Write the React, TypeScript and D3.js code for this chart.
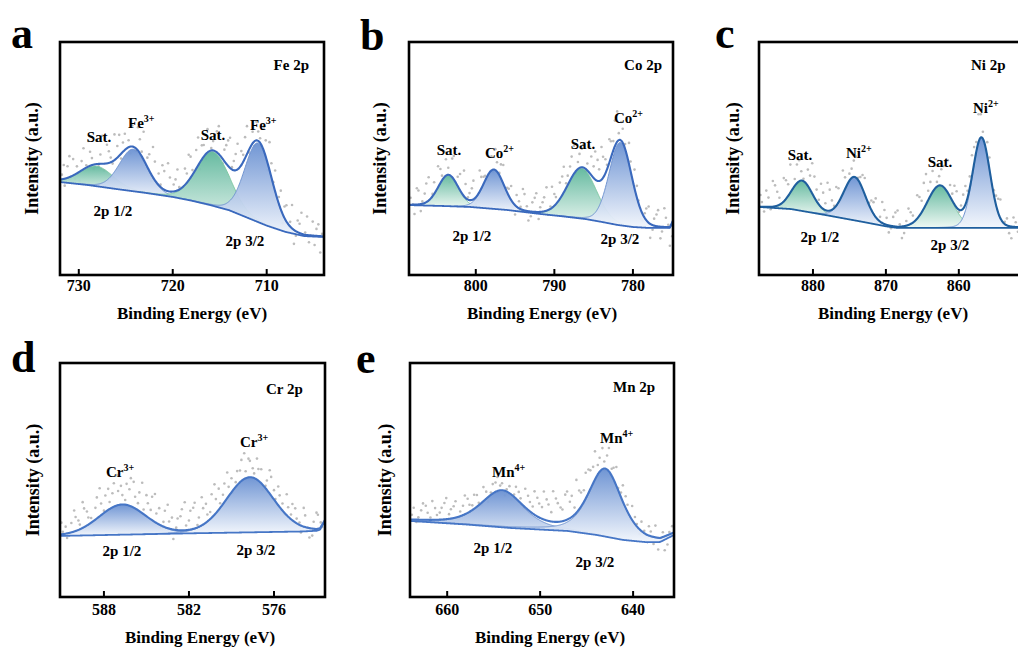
import React from 'react';
import * as d3 from 'd3';

type Peak = { c: number; h: number; w: number; m: number; kind: 'main' | 'sat' };
type Pt = [number, number];

// ---------- Panel a : Fe 2p ----------
const aDomain: Pt = [732, 703.9];
const aTicks = [730, 720, 710];
const aBaseline: Pt[] = [[732, 39.9], [729, 38.6], [726, 36.9], [723, 35.3], [720, 33.5], [718, 31.9], [716, 30.0], [714, 27.8], [712, 24.5], [710, 21.2], [708, 18.5], [706, 16.7], [703.9, 16.3]];
const aPeaks: Peak[] = [
  { c: 728.1, h: 8.6, w: 2.1, m: 0.1, kind: 'sat' },
  { c: 724.2, h: 18.0, w: 1.75, m: 0.1, kind: 'main' },
  { c: 715.7, h: 23.2, w: 2.1, m: 0.1, kind: 'sat' },
  { c: 710.9, h: 33.9, w: 1.7, m: 0.1, kind: 'main' },
];
const aScatter: Pt[] = [[731.8,2],[731.5,-3],[731.2,5],[730.9,-1],[730.6,7],[730.2,3],[729.9,-4],[729.5,9],[729.2,1],[728.8,6],[728.4,-2],[728.1,10],[727.7,4],[727.3,-3],[727.0,8],[726.6,2],[726.2,11],[725.9,5],[725.5,-2],[725.1,7],[724.7,3],[724.3,9],[723.9,-1],[723.5,6],[723.1,12],[722.7,4],[722.3,-3],[721.9,8],[721.5,5],[721.1,10],[720.7,-2],[720.3,6],[719.9,3],[719.5,9],[719.1,-4],[718.7,7],[718.3,11],[717.9,2],[717.5,8],[717.1,-3],[716.7,5],[716.3,10],[715.9,1],[715.5,7],[715.1,12],[714.7,-2],[714.3,8],[713.9,13],[713.5,4],[713.1,11],[712.7,6],[712.3,9],[711.9,-1],[711.5,5],[711.1,8],[710.7,2],[710.3,10],[709.9,-3],[709.5,6],[709.1,9],[708.7,3],[708.3,-4],[707.9,7],[707.5,2],[707.1,-6],[706.7,5],[706.3,9],[705.9,1],[705.5,-3],[705.1,6],[704.7,3],[704.3,-7]];
const aScatter2: Pt[] = [[731.6,6],[731.0,9],[730.4,-2],[729.7,4],[729.0,11],[728.6,3],[727.9,-1],[727.5,12],[726.8,5],[726.4,-1],[725.7,9],[725.3,4],[724.5,-3],[723.7,10],[723.3,2],[722.5,7],[722.1,13],[721.3,1],[720.9,8],[720.5,12],[719.7,5],[719.3,1],[718.5,4],[718.1,9],[717.3,12],[716.9,6],[716.5,-2],[715.7,4],[715.3,9],[714.5,5],[714.1,11],[713.7,1],[713.3,7],[712.5,3],[712.1,12],[711.3,-2],[710.9,4],[710.1,7],[709.7,12],[709.3,1],[708.5,8],[708.1,5],[707.3,10],[706.9,-2],[706.5,4],[705.7,8],[705.3,0],[704.9,-4],[704.5,5],[704.1,1]];

// ---------- Panel b : Co 2p ----------
const bDomain: Pt = [808.5, 774.9];
const bTicks = [800, 790, 780];
const bBaseline: Pt[] = [[808.5, 30.0], [804, 29.6], [800.7, 29.2], [796, 27.9], [791.8, 26.2], [789, 25.2], [786, 24.0], [784, 22.8], [782, 21.5], [780, 20.6], [778, 20.2], [775.3, 20.2], [774.9, 23.0]];
const bPeaks: Peak[] = [
  { c: 803.5, h: 13.3, w: 1.5, m: 0.1, kind: 'sat' },
  { c: 797.7, h: 16.7, w: 1.55, m: 0.1, kind: 'main' },
  { c: 786.5, h: 21.5, w: 2.2, m: 0.1, kind: 'sat' },
  { c: 781.6, h: 35.6, w: 1.7, m: 0.1, kind: 'main' },
];
const bScatter: Pt[] = [[808.3,3],[807.8,-4],[807.3,6],[806.8,1],[806.3,8],[805.8,-2],[805.3,5],[804.8,9],[804.3,2],[803.8,7],[803.3,-3],[802.8,10],[802.3,4],[801.8,-1],[801.3,6],[800.8,3],[800.3,8],[799.8,-2],[799.3,5],[798.8,2],[798.3,7],[797.8,-1],[797.3,4],[796.8,6],[796.3,-3],[795.8,3],[795.3,-2],[794.8,5],[794.3,1],[793.8,7],[793.3,-4],[792.8,4],[792.3,8],[791.8,2],[791.3,6],[790.8,-2],[790.3,9],[789.8,3],[789.3,7],[788.8,11],[788.3,4],[787.8,9],[787.3,-1],[786.8,6],[786.3,10],[785.8,3],[785.3,8],[784.8,12],[784.3,5],[783.8,9],[783.3,2],[782.8,7],[782.3,11],[781.8,3],[781.3,6],[780.8,-2],[780.3,4],[779.8,8],[779.3,1],[778.8,-3],[778.3,5],[777.8,-6],[777.3,3],[776.8,7],[776.3,-2],[775.8,4],[775.3,-8]];
const bScatter2: Pt[] = [[808.0,0],[807.5,7],[807.0,-3],[806.5,4],[806.0,10],[805.5,1],[805.0,-3],[804.5,6],[804.0,11],[803.5,3],[803.0,8],[802.5,-2],[802.0,7],[801.5,11],[801.0,1],[800.5,5],[800.0,-3],[799.5,9],[799.0,3],[798.5,-2],[798.0,6],[797.5,9],[797.0,1],[796.5,8],[796.0,2],[795.5,6],[795.0,-4],[794.5,3],[794.0,9],[793.5,2],[793.0,-2],[792.5,6],[792.0,-3],[791.5,4],[791.0,10],[790.5,1],[790.0,5],[789.5,-2],[789.0,8],[788.5,2],[788.0,6],[787.5,12],[787.0,3],[786.5,8],[786.0,-1],[785.5,11],[785.0,5],[784.5,9],[784.0,14],[783.5,6],[783.0,10],[782.5,4],[782.0,13],[781.5,8],[781.0,2],[780.5,9],[780.0,-1],[779.5,5],[779.0,-4],[778.5,2],[778.0,7],[777.5,-2],[777.0,5],[776.5,-5],[776.0,8],[775.5,1],[775.0,-6]];

// ---------- Panel c : Ni 2p ----------
const cDomain: Pt = [887.4, 851.2];
const cTicks = [880, 870, 860];
const cBaseline: Pt[] = [[887.4, 29.2], [883, 28.3], [878.4, 25.8], [873, 22.7], [870, 20.9], [868.4, 20.2], [851.2, 20.2]];
const cPeaks: Peak[] = [
  { c: 881.5, h: 12.9, w: 1.7, m: 0.1, kind: 'sat' },
  { c: 874.3, h: 18.5, w: 1.75, m: 0.1, kind: 'main' },
  { c: 862.6, h: 18.0, w: 2.05, m: 0.1, kind: 'sat' },
  { c: 856.9, h: 38.6, w: 1.4, m: 0.1, kind: 'main' },
];
const cScatter: Pt[] = [[887.0,2],[886.4,7],[885.8,-1],[885.2,9],[884.6,3],[884.0,10],[883.4,5],[882.8,-2],[882.2,8],[881.6,4],[881.0,11],[880.4,6],[879.8,9],[879.2,2],[878.6,7],[878.0,12],[877.4,4],[876.8,8],[876.2,-1],[875.6,5],[875.0,3],[874.4,7],[873.8,1],[873.2,6],[872.6,-2],[872.0,4],[871.4,8],[870.8,2],[870.2,6],[869.6,-3],[869.0,4],[868.4,7],[867.8,-5],[867.2,2],[866.6,5],[866.0,-2],[865.4,8],[864.8,11],[864.2,4],[863.6,9],[863.0,2],[862.4,7],[861.8,12],[861.2,5],[860.6,8],[860.0,-1],[859.4,6],[858.8,3],[858.2,9],[857.6,4],[857.0,10],[856.4,-2],[855.8,5],[855.2,2],[854.6,6],[854.0,-1],[853.4,3],[852.8,-5],[852.2,2],[851.6,4]];
const cScatter2: Pt[] = [[887.2,5],[886.7,-2],[886.1,4],[885.5,11],[884.9,6],[884.3,-1],[883.7,8],[883.1,12],[882.5,3],[881.9,9],[881.3,1],[880.7,7],[880.1,13],[879.5,5],[878.9,10],[878.3,3],[877.7,9],[877.1,1],[876.5,6],[875.9,10],[875.3,-2],[874.7,4],[874.1,9],[873.5,3],[872.9,7],[872.3,1],[871.7,5],[871.1,-1],[870.5,9],[869.9,3],[869.3,-1],[868.7,6],[868.1,1],[867.5,-3],[866.9,7],[866.3,3],[865.7,10],[865.1,5],[864.5,13],[863.9,6],[863.3,10],[862.7,4],[862.1,9],[861.5,14],[860.9,3],[860.3,7],[859.7,2],[859.1,8],[858.5,5],[857.9,7],[857.3,12],[856.7,3],[856.1,6],[855.5,-1],[854.9,4],[854.3,8],[853.7,1],[853.1,-3],[852.5,4],[851.9,-2]];

// ---------- Panel d : Cr 2p ----------
const dDomain: Pt = [591.1, 572.4];
const dTicks = [588, 582, 576];
const dBaseline: Pt[] = [[591.1, 26.1], [582, 27.2], [574, 28.0], [573.0, 28.3], [572.75, 28.8], [572.4, 32.5]];
const dPeaks: Peak[] = [
  { c: 586.7, h: 12.8, w: 1.95, m: 0.1, kind: 'main' },
  { c: 577.7, h: 23.5, w: 1.95, m: 0.1, kind: 'main' },
];
const dScatter: Pt[] = [[590.9,1],[590.6,-2],[590.3,4],[590.0,6],[589.7,2],[589.4,8],[589.1,3],[588.8,-1],[588.5,9],[588.2,5],[587.9,7],[587.6,3],[587.3,10],[587.0,6],[586.7,4],[586.4,9],[586.1,12],[585.8,5],[585.5,8],[585.2,2],[584.9,6],[584.6,10],[584.3,4],[584.0,-1],[583.7,7],[583.4,3],[583.1,-4],[582.8,5],[582.5,9],[582.2,2],[581.9,8],[581.6,11],[581.3,4],[581.0,7],[580.7,3],[580.4,10],[580.1,6],[579.8,2],[579.5,8],[579.2,4],[578.9,-1],[578.6,6],[578.3,9],[578.0,3],[577.7,7],[577.4,2],[577.1,5],[576.8,-2],[576.5,4],[576.2,8],[575.9,1],[575.6,5],[575.3,-1],[575.0,4],[574.7,7],[574.4,2],[574.1,-3],[573.8,5],[573.5,-4],[573.2,3],[572.9,6],[572.6,-1]];
const dScatter2: Pt[] = [[591.0,5],[590.7,3],[590.4,-1],[590.1,9],[589.8,4],[589.5,11],[589.2,6],[588.9,2],[588.6,5],[588.3,12],[588.0,1],[587.7,9],[587.4,6],[587.1,13],[586.8,8],[586.5,2],[586.2,7],[585.9,11],[585.6,3],[585.3,13],[585.0,9],[584.7,4],[584.4,12],[584.1,7],[583.8,2],[583.5,10],[583.2,5],[582.9,1],[582.6,6],[582.3,12],[582.0,4],[581.7,9],[581.4,1],[581.1,12],[580.8,8],[580.5,3],[580.2,13],[579.9,9],[579.6,4],[579.3,11],[579.0,6],[578.7,2],[578.4,5],[578.1,11],[577.8,8],[577.5,4],[577.2,9],[576.9,6],[576.6,1],[576.3,10],[576.0,4],[575.7,8],[575.4,3],[575.1,9],[574.8,2],[574.5,6],[574.2,1],[573.9,8],[573.6,0],[573.3,-3],[573.0,7],[572.7,2]];

// ---------- Panel e : Mn 2p ----------
const eDomain: Pt = [664, 635.6];
const eTicks = [660, 650, 640];
const eBaseline: Pt[] = [[664, 32.5], [658, 31.0], [653.2, 29.5], [647, 28.2], [643.9, 26.5], [641.1, 24.4], [638.5, 23.4], [637.1, 23.5], [635.6, 26.5]];
const ePeaks: Peak[] = [
  { c: 654.1, h: 15.4, w: 2.7, m: 0.5, kind: 'main' },
  { c: 643.0, h: 28.6, w: 2.1, m: 0.45, kind: 'main' },
];
const eScatter: Pt[] = [[663.8,2],[663.3,-1],[662.8,4],[662.3,6],[661.8,1],[661.3,5],[660.8,3],[660.3,7],[659.8,2],[659.3,5],[658.8,-1],[658.3,4],[657.8,6],[657.3,2],[656.8,5],[656.3,-1],[655.8,3],[655.3,1],[654.8,4],[654.3,2],[653.8,-2],[653.3,3],[652.8,1],[652.3,4],[651.8,-1],[651.3,6],[650.8,3],[650.3,8],[649.8,5],[649.3,9],[648.8,4],[648.3,10],[647.8,6],[647.3,11],[646.8,7],[646.3,3],[645.8,8],[645.3,5],[644.8,10],[644.3,7],[643.8,4],[643.3,9],[642.8,6],[642.3,3],[641.8,8],[641.3,2],[640.8,5],[640.3,-1],[639.8,3],[639.3,-2],[638.8,1],[638.3,4],[637.8,-3],[637.3,-5],[636.8,2],[636.3,-4],[635.8,3]];
const eScatter2: Pt[] = [[663.6,5],[663.1,1],[662.6,7],[662.1,3],[661.6,8],[661.1,2],[660.6,5],[660.1,9],[659.6,4],[659.1,7],[658.6,2],[658.1,8],[657.6,3],[657.1,6],[656.6,1],[656.1,6],[655.6,-2],[655.1,4],[654.6,6],[654.1,3],[653.6,1],[653.1,-2],[652.6,5],[652.1,2],[651.6,8],[651.1,4],[650.6,10],[650.1,6],[649.6,12],[649.1,7],[648.6,13],[648.1,8],[647.6,5],[647.1,12],[646.6,9],[646.1,14],[645.6,6],[645.1,11],[644.6,8],[644.1,12],[643.6,6],[643.1,3],[642.6,10],[642.1,5],[641.6,1],[641.1,7],[640.6,3],[640.1,6],[639.6,1],[639.1,4],[638.6,-3],[638.1,2],[637.6,5],[637.1,-1],[636.6,-6],[636.1,1]];

// ---------- text ----------
type Label = { text: string; sup?: string; x: number; y: number; anchor?: 'start' | 'middle' | 'end' };

const FONT = "'Liberation Serif', 'Times New Roman', Times, serif";

interface PanelCfg {
  id: string;
  letter: string;
  letterPos: [number, number];
  box: { x: number; y: number; w: number; h: number };
  domain: Pt;
  ticks: number[];
  baseline: Pt[];
  peaks: Peak[];
  scatter: Pt[];
  labels: Label[];
  yTitleX: number;
  xTitlePos: [number, number];
  tickY: number;
  lineColor: string;
}

const panels: PanelCfg[] = [
  {
    id: 'a', letter: 'a', letterPos: [11, 48],
    box: { x: 60, y: 42, w: 264, h: 233 },
    domain: aDomain, ticks: aTicks, baseline: aBaseline, peaks: aPeaks, scatter: [...aScatter, ...aScatter2],
    labels: [
      { text: 'Fe 2p', x: 309, y: 70, anchor: 'end' },
      { text: 'Sat.', x: 99, y: 142, anchor: 'middle' },
      { text: 'Fe', sup: '3+', x: 128, y: 128 },
      { text: 'Sat.', x: 213, y: 140, anchor: 'middle' },
      { text: 'Fe', sup: '3+', x: 250, y: 130 },
      { text: '2p 1/2', x: 113, y: 216, anchor: 'middle' },
      { text: '2p 3/2', x: 245, y: 246, anchor: 'middle' },
    ],
    yTitleX: 38, xTitlePos: [192, 319], tickY: 291, lineColor: '#3a69bd',
  },
  {
    id: 'b', letter: 'b', letterPos: [360, 50],
    box: { x: 409, y: 42, w: 264, h: 233 },
    domain: bDomain, ticks: bTicks, baseline: bBaseline, peaks: bPeaks, scatter: [...bScatter, ...bScatter2],
    labels: [
      { text: 'Co 2p', x: 662, y: 70, anchor: 'end' },
      { text: 'Sat.', x: 449, y: 155, anchor: 'middle' },
      { text: 'Co', sup: '2+', x: 485, y: 158 },
      { text: 'Sat.', x: 583, y: 149, anchor: 'middle' },
      { text: 'Co', sup: '2+', x: 614, y: 123 },
      { text: '2p 1/2', x: 472, y: 241, anchor: 'middle' },
      { text: '2p 3/2', x: 620, y: 244, anchor: 'middle' },
    ],
    yTitleX: 386, xTitlePos: [542, 319], tickY: 291, lineColor: '#3a69bd',
  },
  {
    id: 'c', letter: 'c', letterPos: [715, 48],
    box: { x: 759, y: 42, w: 264, h: 233 },
    domain: cDomain, ticks: cTicks, baseline: cBaseline, peaks: cPeaks, scatter: [...cScatter, ...cScatter2],
    labels: [
      { text: 'Ni 2p', x: 971, y: 70 },
      { text: 'Ni', sup: '2+', x: 973, y: 113 },
      { text: 'Sat.', x: 800, y: 160, anchor: 'middle' },
      { text: 'Ni', sup: '2+', x: 846, y: 158 },
      { text: 'Sat.', x: 940, y: 167, anchor: 'middle' },
      { text: '2p 1/2', x: 820, y: 242, anchor: 'middle' },
      { text: '2p 3/2', x: 950, y: 250, anchor: 'middle' },
    ],
    yTitleX: 739, xTitlePos: [893, 319], tickY: 291, lineColor: '#1f5f9e',
  },
  {
    id: 'd', letter: 'd', letterPos: [11, 372],
    box: { x: 60, y: 363, w: 265, h: 234 },
    domain: dDomain, ticks: dTicks, baseline: dBaseline, peaks: dPeaks, scatter: [...dScatter, ...dScatter2],
    labels: [
      { text: 'Cr 2p', x: 266, y: 394 },
      { text: 'Cr', sup: '3+', x: 106, y: 477 },
      { text: 'Cr', sup: '3+', x: 240, y: 447 },
      { text: '2p 1/2', x: 122, y: 556, anchor: 'middle' },
      { text: '2p 3/2', x: 256, y: 555, anchor: 'middle' },
    ],
    yTitleX: 39, xTitlePos: [200, 643], tickY: 615, lineColor: '#4676c6',
  },
  {
    id: 'e', letter: 'e', letterPos: [356, 373],
    box: { x: 410, y: 363, w: 264, h: 234 },
    domain: eDomain, ticks: eTicks, baseline: eBaseline, peaks: ePeaks, scatter: [...eScatter, ...eScatter2],
    labels: [
      { text: 'Mn 2p', x: 613, y: 392 },
      { text: 'Mn', sup: '4+', x: 492, y: 477 },
      { text: 'Mn', sup: '4+', x: 600, y: 443 },
      { text: '2p 1/2', x: 493, y: 553, anchor: 'middle' },
      { text: '2p 3/2', x: 595, y: 567, anchor: 'middle' },
    ],
    yTitleX: 391, xTitlePos: [550, 643], tickY: 615, lineColor: '#4676c6',
  },
];

function pv(x: number, p: Peak) {
  const t = (x - p.c) / p.w;
  return p.h * ((1 - p.m) * Math.exp(-Math.LN2 * t * t) + p.m / (1 + t * t));
}

function Panel({ cfg }: { cfg: PanelCfg }) {
  const { x, y, w, h } = cfg.box;
  const xs = d3.scaleLinear().domain(cfg.domain).range([x, x + w]);
  const ys = d3.scaleLinear().domain([0, 100]).range([y + h, y]);
  const bl = d3.scaleLinear()
    .domain(cfg.baseline.map((d) => d[0]))
    .range(cfg.baseline.map((d) => d[1]))
    .clamp(true);
  const lo = Math.min(cfg.domain[0], cfg.domain[1]);
  const hi = Math.max(cfg.domain[0], cfg.domain[1]);
  const grid = d3.range(lo, hi + 0.0001, 0.05);
  const total = (e: number) => bl(e) + d3.sum(cfg.peaks, (p) => pv(e, p));

  const line = d3.line<Pt>().x((d) => xs(d[0])).y((d) => ys(d[1])).curve(d3.curveMonotoneX);
  const area = d3.area<[number, number, number]>()
    .x((d) => xs(d[0])).y0((d) => ys(d[1])).y1((d) => ys(d[2])).curve(d3.curveMonotoneX);

  const envelope: Pt[] = grid.map((e) => [e, total(e)]);
  const baseLine: Pt[] = grid.map((e) => [e, bl(e)]);
  const clipId = `clip-${cfg.id}`;

  return (
    <g>
      <defs>
        <clipPath id={clipId}>
          <rect x={x} y={y} width={w} height={h} />
        </clipPath>
        <linearGradient id={`gm-${cfg.id}`} x1="0" y1="0" x2="0" y2="1">
          <stop offset="0" stopColor="#6a91d2" />
          <stop offset="1" stopColor="#f2f6fc" />
        </linearGradient>
        <linearGradient id={`gs-${cfg.id}`} x1="0" y1="0" x2="0" y2="1">
          <stop offset="0" stopColor="#5fb79c" />
          <stop offset="1" stopColor="#eef8f3" />
        </linearGradient>
      </defs>
      <g clipPath={`url(#${clipId})`}>
        {cfg.scatter.map((d, i) => (
          <circle key={i} cx={xs(d[0])} cy={ys(total(d[0]) + d[1])} r={1.3} fill="#bcbcbc" />
        ))}
        {cfg.peaks.map((p, i) => {
          const pts = grid
            .filter((e) => pv(e, p) > 0.15)
            .map((e) => [e, bl(e), bl(e) + pv(e, p)] as [number, number, number]);
          const top: Pt[] = pts.map((d) => [d[0], d[2]]);
          return (
            <g key={i}>
              <path d={area(pts) || ''} fill={`url(#${p.kind === 'main' ? 'gm' : 'gs'}-${cfg.id})`} opacity={0.95} />
              <path d={line(top) || ''} fill="none" stroke={p.kind === 'main' ? '#6f93d0' : '#80c9a4'} strokeWidth={1} />
            </g>
          );
        })}
        <path d={line(baseLine) || ''} fill="none" stroke={cfg.lineColor} strokeWidth={1.8} />
        <path d={line(envelope) || ''} fill="none" stroke={cfg.lineColor} strokeWidth={2.1} />
      </g>
      <rect x={x} y={y} width={w} height={h} fill="none" stroke="#000" strokeWidth={2.6} />
      {cfg.ticks.map((t) => (
        <g key={t}>
          <line x1={xs(t)} x2={xs(t)} y1={y + h} y2={y + h - 6} stroke="#000" strokeWidth={2} />
          <text x={xs(t)} y={cfg.tickY} textAnchor="middle" fontSize={16} fontWeight="bold" fontFamily={FONT}>{t}</text>
        </g>
      ))}
      <text x={cfg.xTitlePos[0]} y={cfg.xTitlePos[1]} textAnchor="middle" fontSize={17} fontWeight="bold" fontFamily={FONT}>
        Binding Energy (eV)
      </text>
      <text
        transform={`translate(${cfg.yTitleX},${y + h / 2}) rotate(-90)`}
        textAnchor="middle" fontSize={18} fontWeight="bold" fontFamily={FONT}
      >
        Intensity (a.u.)
      </text>
      <text x={cfg.letterPos[0]} y={cfg.letterPos[1]} fontSize={44} fontWeight="bold" fontFamily={FONT}>{cfg.letter}</text>
      {cfg.labels.map((l, i) => (
        <text key={i} x={l.x} y={l.y} textAnchor={l.anchor || 'start'} fontSize={15} fontWeight="bold" fontFamily={FONT}>
          {l.text}
          {l.sup ? <tspan dy={-6} fontSize={10}>{l.sup}</tspan> : null}
        </text>
      ))}
    </g>
  );
}

export default function App() {
  return (
    <svg
      width={1018}
      height={650}
      viewBox="0 0 1018 650"
      style={{ position: 'absolute', left: 0, top: 0, background: '#fff' }}
    >
      <rect x={0} y={0} width={1018} height={650} fill="#fff" />
      {panels.map((p) => (
        <Panel key={p.id} cfg={p} />
      ))}
    </svg>
  );
}
